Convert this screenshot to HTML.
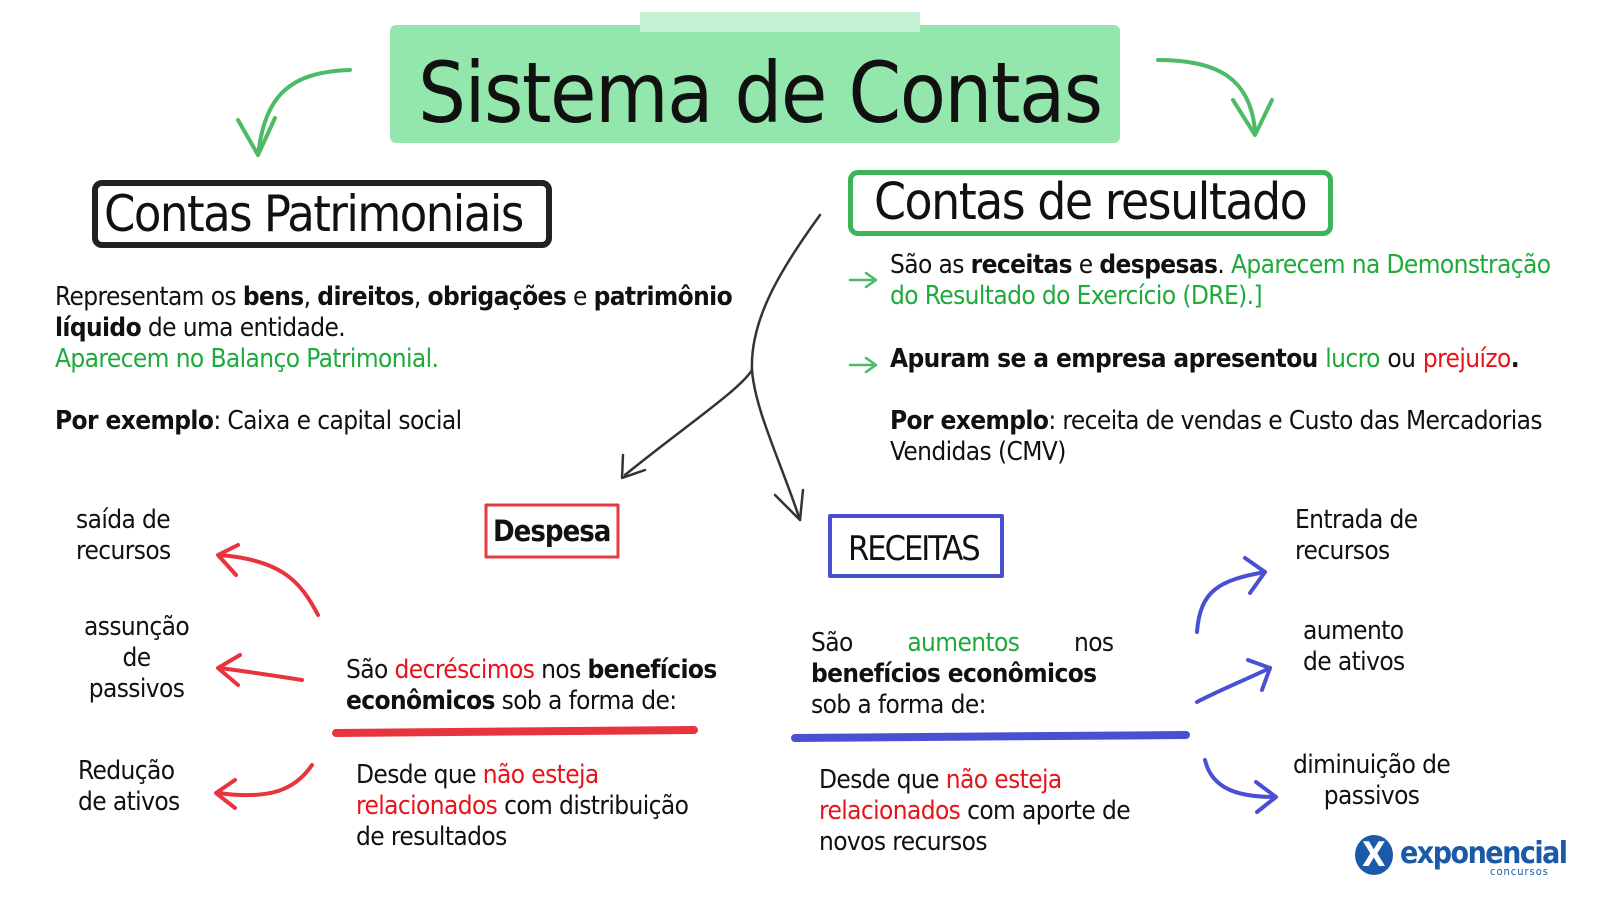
<!DOCTYPE html>
<html><head><meta charset="utf-8">
<style>
*{margin:0;padding:0;box-sizing:border-box}
body{width:1600px;height:900px;background:#fff;position:relative;overflow:hidden;font-family:"Liberation Sans Narrow","DejaVu Sans Condensed","Liberation Sans",sans-serif;color:#111}
.t{position:absolute;white-space:nowrap;font-size:26px;line-height:31px;letter-spacing:-0.6px}
.g{color:#1faa3c}.r{color:#e8141c}.b{font-weight:bold}
.box{position:absolute;border-radius:10px}
</style></head><body>
<div style="position:absolute;left:390px;top:25px;width:730px;height:118px;background:#8ee6a8;border-radius:6px;opacity:.95"></div>
<div style="position:absolute;left:640px;top:12px;width:280px;height:20px;background:#c8f2d4"></div>
<div class="t" style="left:418px;top:45px;font-size:84px;line-height:96px;letter-spacing:-1.5px">Sistema de Contas</div>

<div class="box" style="left:92px;top:180px;width:460px;height:68px;border:6px solid #222"></div>
<div class="t" style="left:104px;top:186px;font-size:50px;line-height:56px;letter-spacing:-1.5px">Contas Patrimoniais</div>
<div class="box" style="left:848px;top:170px;width:485px;height:66px;border:5px solid #3cb55a"></div>
<div class="t" style="left:874px;top:175px;font-size:51px;line-height:56px;letter-spacing:-1.5px">Contas de resultado</div>

<svg width="1600" height="900" style="position:absolute;left:0;top:0" fill="none" stroke-linecap="round" stroke-linejoin="round">
<g stroke="#4dbb66" stroke-width="4">
<path d="M350 70 C290 72 265 95 258 155"/><path d="M238 120 L258 155 L275 118"/>
<path d="M1158 60 C1220 60 1250 80 1255 130"/><path d="M1233 100 L1255 135 L1272 100"/>
<path d="M850 280 L872 280 M866 273 L876 280 L866 287 M850 365 L872 365 M866 358 L876 365 L866 372" stroke-width="2.5"/>
</g>
<g stroke="#333" stroke-width="2.5">
<path d="M820 215 C780 270 750 320 752 370 C740 390 680 430 625 475"/><path d="M623 455 L622 478 L645 470"/>
<path d="M752 370 C755 410 780 460 800 520"/><path d="M775 495 L800 520 L803 490"/>
</g>
<rect x="486" y="505" width="132" height="52" stroke="#e43a42" stroke-width="3"/>
<rect x="830" y="516" width="172" height="60" stroke="#4a4ed0" stroke-width="4"/>
<g stroke="#e8343c" stroke-width="4">
<path d="M318 615 C300 580 280 560 220 555"/><path d="M238 545 L218 555 L236 575"/>
<path d="M302 680 C270 675 250 672 220 668"/><path d="M240 655 L218 668 L238 685"/>
<path d="M312 765 C295 790 270 800 218 793"/><path d="M235 780 L216 793 L235 808"/>
<path d="M336 733 L694 730" stroke-width="8"/>
</g>
<g stroke="#4a50d4" stroke-width="4">
<path d="M1197 632 C1200 590 1220 580 1265 572"/><path d="M1245 558 L1265 572 L1250 593"/>
<path d="M1197 702 C1220 690 1245 680 1270 668"/><path d="M1248 660 L1270 668 L1262 690"/>
<path d="M1205 760 C1212 790 1240 797 1275 797"/><path d="M1256 782 L1276 797 L1257 812"/>
<path d="M795 738 L1186 735" stroke-width="8"/>
</g>
</svg>
<div class="t b" style="left:493px;top:513px;font-size:29px;line-height:36px;letter-spacing:-1px">Despesa</div>
<div class="t" style="left:848px;top:528px;font-size:34px;line-height:42px;letter-spacing:-2px">RECEITAS</div>

<div class="t" style="left:55px;top:282px">Representam os <b>bens</b>, <b>direitos</b>, <b>obrigações</b> e <b>patrimônio</b><br><b>líquido</b> de uma entidade.<br><span class="g">Aparecem no Balanço Patrimonial.</span></div>
<div class="t" style="left:55px;top:406px"><b>Por exemplo</b>: Caixa e capital social</div>

<div class="t" style="left:890px;top:250px">São as <b>receitas</b> e <b>despesas</b>. <span class="g">Aparecem na Demonstração</span><br><span class="g">do Resultado do Exercício (DRE).]</span></div>
<div class="t b" style="left:890px;top:344px">Apuram se a empresa apresentou <span class="g" style="font-weight:normal">lucro</span> <span style="font-weight:normal">ou</span> <span class="r" style="font-weight:normal">prejuízo</span>.</div>
<div class="t" style="left:890px;top:406px"><b>Por exemplo</b>: receita de vendas e Custo das Mercadorias<br>Vendidas (CMV)</div>

<div class="t" style="left:76px;top:505px">saída de<br>recursos</div>
<div class="t" style="left:84px;top:612px;text-align:center">assunção<br>de<br>passivos</div>
<div class="t" style="left:78px;top:756px">Redução<br>de ativos</div>

<div class="t" style="left:346px;top:655px">São <span class="r">decréscimos</span> nos <b>benefícios</b><br><b>econômicos</b> sob a forma de:</div>
<div class="t" style="left:356px;top:760px">Desde que <span class="r">não esteja</span><br><span class="r">relacionados</span> com distribuição<br>de resultados</div>

<div class="t" style="left:811px;top:628px">São &nbsp;&nbsp;&nbsp;&nbsp;&nbsp;&nbsp;&nbsp;<span class="g">aumentos</span> &nbsp;&nbsp;&nbsp;&nbsp;&nbsp;&nbsp;&nbsp;nos<br><b>benefícios econômicos</b><br>sob a forma de:</div>
<div class="t" style="left:819px;top:765px">Desde que <span class="r">não esteja</span><br><span class="r">relacionados</span> com aporte de<br>novos recursos</div>

<div class="t" style="left:1295px;top:505px">Entrada de<br>recursos</div>
<div class="t" style="left:1303px;top:616px">aumento<br>de ativos</div>
<div class="t" style="left:1293px;top:750px;text-align:center">diminuição de<br>passivos</div>

<div style="position:absolute;left:1355px;top:835px;width:38px;height:40px;border-radius:50%;background:#1a5aa8"></div>
<div class="t" style="left:1362px;top:835px;color:#fff;font-size:34px;line-height:40px;font-weight:bold">X</div>
<div class="t" style="left:1400px;top:838px;color:#1a5aa8;font-size:30px;line-height:32px;font-weight:bold;letter-spacing:-1.5px">exponencial</div>
<div class="t" style="left:1490px;top:866px;color:#1a5aa8;font-size:11px;line-height:12px;letter-spacing:1px">concursos</div>
</body></html>
